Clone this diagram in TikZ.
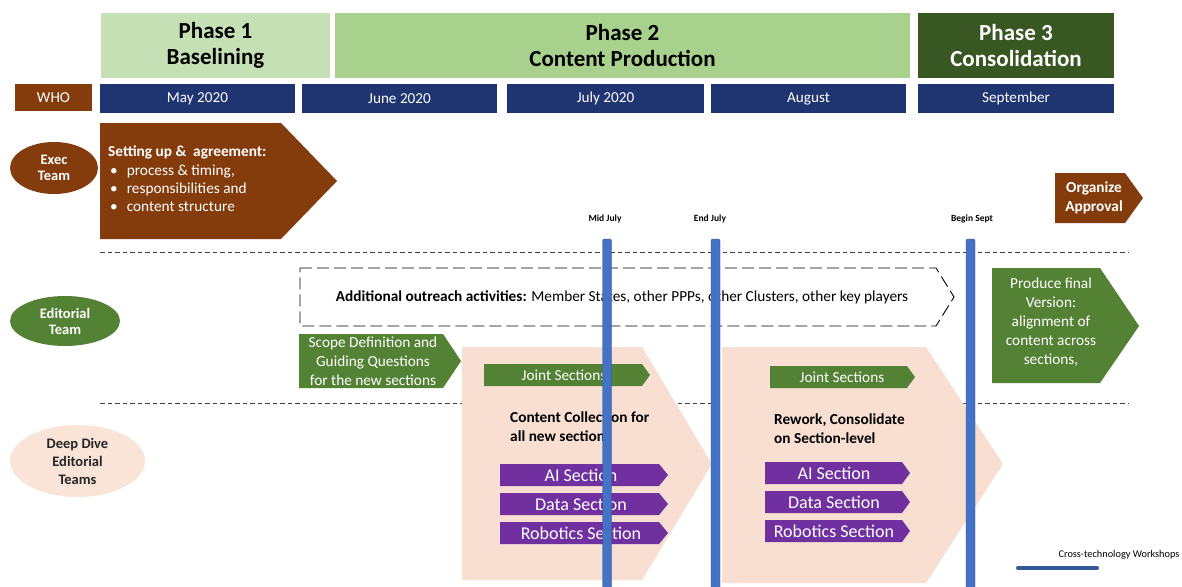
\documentclass[tikz,border=0pt]{standalone}
\usepackage{fontspec}
\setmainfont{Carlito}
\usetikzlibrary{shapes.geometric}
\definecolor{phA}{HTML}{C5E0B4}
\definecolor{phB}{HTML}{A9D18E}
\definecolor{phC}{HTML}{385723}
\definecolor{brownc}{HTML}{843C0C}
\definecolor{navy}{HTML}{1F3571}
\definecolor{greenc}{HTML}{548235}
\definecolor{peach}{HTML}{F8DFD2}
\definecolor{peachL}{HTML}{FAE3D7}
\definecolor{purplec}{HTML}{7030A0}
\definecolor{barblue}{HTML}{4472C4}
\definecolor{bardark}{HTML}{2F528F}
\tikzset{
  phasebox/.style={rectangle, minimum height=66pt, inner sep=0pt, align=center,
    font=\fontsize{23}{26}\selectfont\bfseries, draw=white, line width=1.2pt},
  monthbox/.style={rectangle, fill=navy, minimum height=29pt, inner sep=0pt, text=white,
    font=\fontsize{15.2}{17}\selectfont},
  teamell/.style={ellipse, inner sep=0pt, align=center, font=\fontsize{14.5}{18}\selectfont\bfseries},
  wtext/.style={text=white, align=center, inner sep=0pt},
  body/.style={font=\fontsize{15.3}{19}\selectfont},
  bodyb/.style={font=\fontsize{15.3}{19}\selectfont\bfseries},
  sep/.style={draw=black!75, line width=0.8pt, dash pattern=on 4.5pt off 3pt},
  barline/.style={fill=barblue, draw=bardark, line width=0.4pt, rounded corners=2pt},
  milestone/.style={font=\fontsize{9.5}{11}\selectfont\bfseries, inner sep=0pt},
}
\begin{document}
\begin{tikzpicture}[x=1pt,y=-1pt]
\useasboundingbox (0,0) rectangle (1182,586);
\fill[white] (0,0) rectangle (1182,586);

% ---- phases
\node[phasebox, fill=phA, minimum width=231pt] (ph1) at (215.5,45.5) {Phase 1\\Baselining};
\node[phasebox, fill=phB, minimum width=577pt] (ph2) at (622.5,45.5) {Phase 2\\Content Production};
\node[phasebox, fill=phC, minimum width=197pt, text=white] (ph3) at (1016,45.5) {Phase 3\\Consolidation};

% ---- months
\node[monthbox, fill=brownc, minimum width=77pt, minimum height=27pt] (who) at (53.5,97.5) {WHO};
\node[monthbox, minimum width=195pt] (may) at (197.5,98.5) {May 2020};
\node[monthbox, minimum width=195pt] (jun) at (399.5,98.5) {June 2020};
\node[monthbox, minimum width=197pt] (jul) at (605.5,98.5) {July 2020};
\node[monthbox, minimum width=195pt] (aug) at (808.5,98.5) {August};
\node[monthbox, minimum width=196pt] (sep) at (1016,98.5) {September};

% ---- team ellipses
\node[teamell, fill=brownc, text=white, minimum width=88pt, minimum height=52pt] (exec) at (54,168) {Exec\\[-2pt]Team};
\node[teamell, fill=greenc, text=white, minimum width=110pt, minimum height=50pt] (edit) at (65,321) {Editorial\\[-2pt]Team};
\node[teamell, fill=peachL, text=black!85, minimum width=135pt, minimum height=72pt] (deep) at (77.5,461) {Deep Dive\\Editorial\\Teams};

% ---- separators
\coordinate (s1a) at (100,252); \coordinate (s1b) at (1128,252);
\coordinate (s2a) at (100,403); \coordinate (s2b) at (1128,403);
\draw[sep] (s1a) -- (s1b);
\draw[sep] (s2a) -- (s2b);

% ---- exec row
\fill[brownc] (100,123) -- (281,123) -- (337,181) -- (281,239) -- (100,239) -- cycle;
\node[text=white, anchor=north west, align=left, inner sep=0pt, font=\fontsize{15.3}{18.3}\selectfont] (execTxt) at (108,146)
  {\textbf{Setting up \&\ \ agreement:}\\
   \hspace*{2pt}\textbullet\hspace{9pt}process \& timing,\\
   \hspace*{2pt}\textbullet\hspace{9pt}responsibilities and\\
   \hspace*{2pt}\textbullet\hspace{9pt}content structure};
\fill[brownc] (1055,173) -- (1125,173) -- (1143,198) -- (1125,223) -- (1055,223) -- cycle;
\node[wtext, bodyb] (orgTxt) at (1094,198) {Organize\\Approval};

% ---- editorial row
\draw[black, line width=0.9pt, dash pattern=on 12pt off 5pt] (300,268) -- (936,268) -- (954,297) -- (936,326) -- (300,326) -- cycle;
\node[inner sep=0pt, body] (outTxt) at (622,297)
  {\textbf{Additional outreach activities:} Member States, other PPPs, other Clusters, other key players};
\fill[greenc] (299,334) -- (443,334) -- (461,361) -- (443,388) -- (299,388) -- cycle;
\node[wtext, body] (scopeTxt) at (373,361)
  {Scope Definition and\\Guiding Questions\\for the new sections};
\fill[greenc] (992,268) -- (1100,268) -- (1139,326) -- (1100,383) -- (992,383) -- cycle;
\node[wtext, body] (prodTxt) at (1051,322)
  {Produce final\\Version:\\alignment of\\content across\\sections,};

% ---- peach pentagons
\fill[peach] (462,347) -- (642,347) -- (712,464) -- (642,580) -- (462,580) -- cycle;
\fill[peach] (722,347) -- (926,347) -- (1003,464) -- (926,583) -- (722,583) -- cycle;

% ---- joint sections
\fill[greenc] (484,364) -- (642,364) -- (650,375) -- (642,386) -- (484,386) -- cycle;
\node[wtext, body] (joint1) at (564,375) {Joint Sections};
\fill[greenc] (770,366) -- (907,366) -- (915,377) -- (907,388) -- (770,388) -- cycle;
\node[wtext, body] (joint2) at (842,377) {Joint Sections};

% ---- deep dive text
\node[anchor=north west, align=left, inner sep=0pt, bodyb] (collTxt) at (510,412)
  {Content Collection for\\all new sections};
\node[anchor=north west, align=left, inner sep=0pt, bodyb] (rewTxt) at (774,414)
  {Rework, Consolidate\\on Section-level};

% ---- purple sections
\foreach \yy/\lab/\nm in {464/AI Section/ai1, 493/Data Section/da1, 522/Robotics Section/ro1}{
  \fill[purplec] (500,\yy) -- (659,\yy) -- (668,\yy+11) -- (659,\yy+22) -- (500,\yy+22) -- cycle;
  \node[wtext, font=\fontsize{18}{20}\selectfont] (\nm) at (581,\yy+11) {\lab};
}
\foreach \yy/\lab/\nm in {462/AI Section/ai2, 491/Data Section/da2, 520/Robotics Section/ro2}{
  \fill[purplec] (765,\yy) -- (902,\yy) -- (910,\yy+11) -- (902,\yy+22) -- (765,\yy+22) -- cycle;
  \node[wtext, font=\fontsize{18}{20}\selectfont] (\nm) at (834,\yy+11) {\lab};
}

% ---- milestones (bars on top)
\node[milestone] (midjul) at (605,219) {Mid July};
\node[milestone] (endjul) at (710,219) {End July};
\node[milestone] (bsept) at (972,219) {Begin Sept};
\draw[barline] (602.5,239) rectangle (611.5,592);
\draw[barline] (711,239) rectangle (720,592);
\draw[barline] (966,239) rectangle (975,592);

% ---- legend
\node[inner sep=0pt, font=\fontsize{10.3}{12}\selectfont] (legTxt) at (1119,555) {Cross-technology Workshops};
\coordinate (legA) at (1018,568); \coordinate (legB) at (1097,568);
\draw[bardark!80!barblue, line width=4pt, line cap=round] (legA) -- (legB);
\end{tikzpicture}
\end{document}
